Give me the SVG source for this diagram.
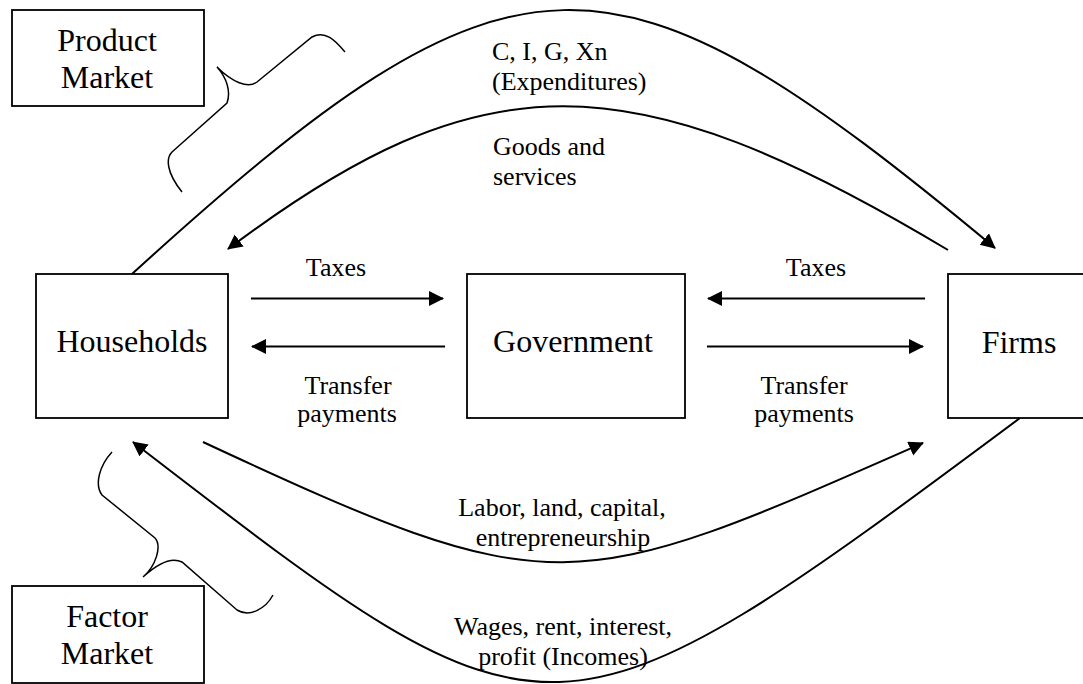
<svg xmlns="http://www.w3.org/2000/svg" width="1083" height="684" viewBox="0 0 1083 684">
<style>
.box{fill:#fff;stroke:#000;stroke-width:1.8}
.title{font-family:"Liberation Serif","Times New Roman",serif;font-size:32px;fill:#000;text-anchor:middle}
.lbl{font-family:"Liberation Serif","Times New Roman",serif;font-size:26px;fill:#000}
.mid{text-anchor:middle}
.ln{fill:none;stroke:#000;stroke-width:2}
.arr{fill:none;stroke:#000;stroke-width:2;marker-end:url(#ah)}
.brace{fill:none;stroke:#000;stroke-width:1.5}
</style>
<defs>
<marker id="ah" markerUnits="userSpaceOnUse" markerWidth="16" markerHeight="16" refX="14" refY="7.5" orient="auto">
<path d="M0,0 L15,7.5 L0,15 z" fill="#000"/>
</marker>
</defs>
<rect width="1083" height="684" fill="#fff"/>

<g id="connectors">
<path class="arr" d="M132,274 C516,-76 611,-71 995,248"/>
<path class="arr" d="M948,250 C628,58 481,59 228,249"/>
<path class="arr" d="M203,442 C555,606 571,598 923,443"/>
<path class="arr" d="M1020,418 C549.5,768.5 550.5,763.5 133,442"/>
<path class="arr" d="M251,298.5 L443,298.5"/>
<path class="arr" d="M445,346.5 L252,346.5"/>
<path class="arr" d="M925,298.5 L708,298.5"/>
<path class="arr" d="M707,346.5 L923,346.5"/>
</g>

<g id="brace-product">
<path class="brace" d="M345,52 C335,40 325,30 312,37 L257,82 C248,89 232,82 217,67 C227,78 231,92 227,103 L172,152 C166,158 166,172 182,192"/>
</g>
<g id="brace-factor">
<path class="brace" d="M112,452 C100,465 94,484 102,495 L155,538 C162,546 156,566 143,577 C155,566 170,556 182,562 L237,610 C250,618 266,608 273,595"/>
</g>

<g id="product-market">
<rect class="box" x="12" y="10" width="192" height="96"/>
<text class="title" x="107" y="51">Product</text>
<text class="title" x="107" y="88">Market</text>
</g>
<g id="factor-market">
<rect class="box" x="12" y="586" width="192" height="97"/>
<text class="title" x="107" y="627">Factor</text>
<text class="title" x="107" y="664">Market</text>
</g>
<g id="households">
<rect class="box" x="36" y="274" width="192" height="144"/>
<text class="title" x="132" y="352">Households</text>
</g>
<g id="government">
<rect class="box" x="467" y="274" width="218" height="144"/>
<text class="title" x="573" y="352">Government</text>
</g>
<g id="firms">
<rect class="box" x="948" y="274" width="137" height="144"/>
<text class="title" x="1019" y="353">Firms</text>
</g>

<g id="labels">
<text class="lbl" x="492" y="60">C, I, G, Xn</text>
<text class="lbl" x="492" y="90">(Expenditures)</text>
<text class="lbl" x="493" y="155">Goods and</text>
<text class="lbl" x="493" y="185">services</text>
<text class="lbl mid" x="336" y="276">Taxes</text>
<text class="lbl mid" x="348" y="394">Transfer</text>
<text class="lbl mid" x="347" y="422">payments</text>
<text class="lbl mid" x="816" y="276">Taxes</text>
<text class="lbl mid" x="804" y="394">Transfer</text>
<text class="lbl mid" x="804" y="422">payments</text>
<text class="lbl mid" x="562" y="516">Labor, land, capital,</text>
<text class="lbl mid" x="563" y="546">entrepreneurship</text>
<text class="lbl mid" x="563" y="635">Wages, rent, interest,</text>
<text class="lbl mid" x="563" y="665">profit (Incomes)</text>
</g>
</svg>
